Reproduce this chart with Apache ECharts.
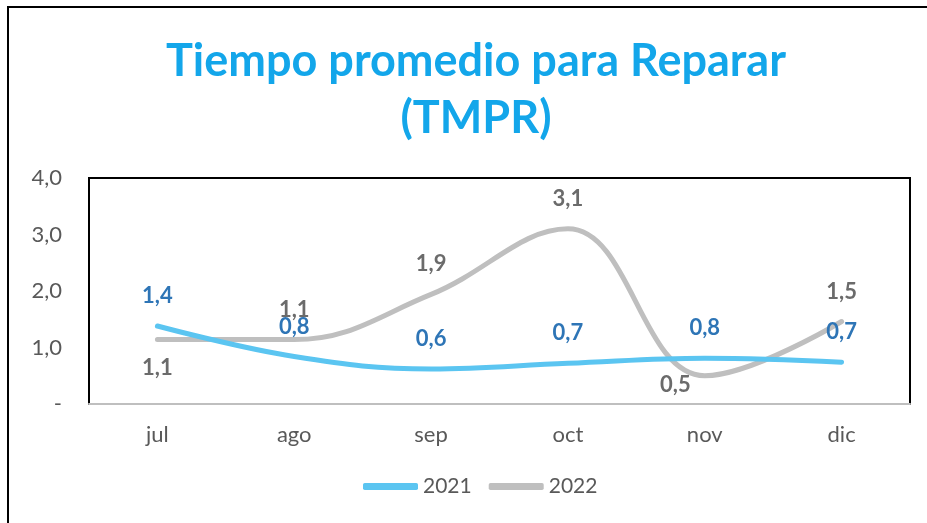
<!DOCTYPE html>
<html>
<head>
<meta charset="utf-8">
<script src="https://cdn.jsdelivr.net/npm/echarts@6/dist/echarts.min.js"></script>
<style>
html,body{margin:0;padding:0;background:#fff}
#main{width:927px;height:523px}
</style>
</head>
<body>
<div id="main"></div>
<script>
// datos
var meses = ['jul', 'ago', 'sep', 'oct', 'nov', 'dic'];
var datos2021 = [1.38, 0.84, 0.62, 0.72, 0.81, 0.74];
var datos2022 = [1.14, 1.14, 1.94, 3.10, 0.50, 1.46];
var posEtiq2022 = ['bottom', 'top', 'top', 'top', 'left', 'top'];
var ticksY = [0, 1, 2, 3, 4];

var chart = echarts.init(document.getElementById('main'));

function fmt(v) {
    return v.toFixed(1).replace('.', ',');
}

var serie2022 = datos2022.map(function (v, i) {
    var lab = { position: posEtiq2022[i] };
    if (posEtiq2022[i] === 'left') { lab.offset = [0, 9]; lab.distance = 13; }
    if (posEtiq2022[i] === 'bottom') { lab.distance = 16; }
    return { value: v, label: lab };
});

option = {
    backgroundColor: '#fff',
    textStyle: { fontFamily: 'Lato' },
    title: {
        text: 'Tiempo promedio para Reparar\n(TMPR)',
        left: 471,
        top: 28,
        textAlign: 'center',
        textStyle: {
            fontFamily: 'Lato',
            fontSize: 45,
            fontWeight: 'bold',
            color: '#13A6EA',
            lineHeight: 57
        }
    },
    // marco exterior
    graphic: [{
        type: 'rect',
        shape: { x: 8, y: 7, width: 1000, height: 600 },
        style: { fill: 'none', stroke: '#000', lineWidth: 2 },
        silent: true
    }],
    legend: {
        data: ['2021', '2022'],
        bottom: 21,
        left: 358,
        icon: 'roundRect',
        itemWidth: 55,
        itemHeight: 7,
        itemGap: 17,
        textStyle: { fontSize: 21, color: '#595959', fontFamily: 'Lato' }
    },
    grid: {
        left: 89,
        right: 17,
        top: 178,
        bottom: 119,
        show: true,
        borderColor: '#000',
        borderWidth: 2
    },
    xAxis: {
        type: 'category',
        data: meses,
        boundaryGap: true,
        axisLine: { lineStyle: { color: '#BFBFBF', width: 2 } },
        axisTick: { show: false },
        axisLabel: { fontSize: 22, color: '#595959', margin: 20 }
    },
    yAxis: {
        type: 'value',
        min: ticksY[0],
        max: ticksY[ticksY.length - 1],
        interval: 1,
        splitLine: { show: false },
        axisLine: { show: false },
        axisTick: { show: false },
        axisLabel: {
            fontSize: 22,
            color: '#595959',
            margin: 27,
            formatter: function (v) { return v === 0 ? '-' : fmt(v); }
        }
    },
    series: [
        {
            name: '2021',
            type: 'line',
            data: datos2021,
            smooth: 0.4,
            symbol: 'circle',
            symbolSize: 2,
            lineStyle: { width: 5, color: '#5BC5F1', cap: 'round' },
            itemStyle: { color: '#5BC5F1' },
            label: {
                show: true,
                position: 'top',
                distance: 18,
                fontSize: 22,
                fontWeight: 'bold',
                color: '#2E75B6',
                formatter: function (p) { return fmt(p.value); }
            },
            z: 3
        },
        {
            name: '2022',
            type: 'line',
            data: serie2022,
            smooth: 0.4,
            symbol: 'circle',
            symbolSize: 2,
            lineStyle: { width: 5, color: '#BFBFBF', cap: 'round' },
            itemStyle: { color: '#BFBFBF' },
            label: {
                show: true,
                distance: 18,
                fontSize: 22,
                fontWeight: 'bold',
                color: '#6B6B6B',
                formatter: function (p) { return fmt(p.value); }
            },
            z: 2
        }
    ]
};

chart.setOption(option);
</script>
</body>
</html>
